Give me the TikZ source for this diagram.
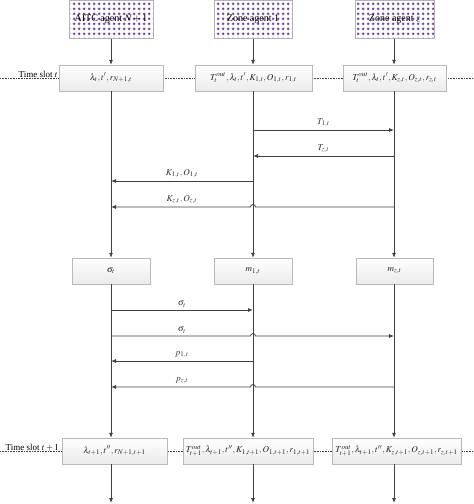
\documentclass[tikz,border=0pt]{standalone}
\usepackage{mathptmx}
\usepackage{fontspec}
\setmainfont{Liberation Serif}
\usetikzlibrary{arrows.meta,patterns.meta,shadows}
\definecolor{ln}{HTML}{404040}
\definecolor{pur}{HTML}{5A2590}
\tikzdeclarepattern{name=plusgrid, type=uncolored,
  bounding box={(0pt,0pt) and (4.5pt,4.5pt)}, tile size={(4.5pt,4.5pt)},
  code={\fill (0.9pt,1.7pt) rectangle (3.6pt,2.8pt); \fill (1.7pt,0.9pt) rectangle (2.8pt,3.6pt);}}
\tikzset{
  agent/.style={draw=gray!60, fill=white, pattern=plusgrid, pattern color=pur, inner sep=0pt,
    font=\fontsize{10}{11}\selectfont, text=black},
  agenttxt/.style={inner sep=0pt, font=\fontsize{10}{11}\selectfont, text=black},
  stbox/.style={draw=gray!55, top color=white, bottom color=gray!16, inner sep=0pt,
    minimum height=26pt, font=\fontsize{9}{10}\selectfont, text=black!85,
    drop shadow={shadow xshift=1pt, shadow yshift=-1pt, fill=gray!35, opacity=.6}},
  life/.style={draw=ln, line width=0.8pt},
  arr/.style={life, -{Latex[length=5pt,width=4pt]}},
  msg/.style={draw=ln, line width=0.8pt, -{Latex[length=5pt,width=4pt]}},
  lbl/.style={above=2.5pt, inner sep=0pt, font=\fontsize{9}{10}\selectfont, text=black!80},
  slot/.style={draw=ln, densely dotted, line width=0.6pt},
  slotlbl/.style={anchor=south east, inner sep=1pt, font=\fontsize{9}{10}\selectfont, text=black}
}
\begin{document}
\begin{tikzpicture}[x=1pt,y=-1pt]
\useasboundingbox (0,0) rectangle (474,504);
% time slot lines
\draw[slot] (0,78) -- (474,78);
\draw[slot] (0,451) -- (474,451);
\node[slotlbl] (ts1) at (59,79) {Time slot $t$};
\node[slotlbl] (ts2) at (60,452) {Time slot $t+1$};
% agents
\node[agent, minimum width=84pt, minimum height=38pt] (AA) at (111,19.5) {};
\node[agenttxt] at (AA) {AITC agent $N+1$};
\node[agent, minimum width=78pt, minimum height=38pt] (AB) at (253,19.5) {};
\node[agenttxt] at (AB) {Zone agent 1};
\node[agent, minimum width=79pt, minimum height=38pt] (AC) at (394.5,19.5) {};
\node[agenttxt] at (AC) {Zone agent $z$};
% row 1
\node[stbox, minimum width=104pt] (R1A) at (111,78) {$\lambda_t,t',r_{N+1,t}$};
\node[stbox, minimum width=117pt] (R1B) at (253.5,78) {$T_t^{out},\lambda_t,t',K_{1,t},O_{1,t},r_{1,t}$};
\node[stbox, minimum width=103pt] (R1C) at (394.5,78) {$T_t^{out},\lambda_t,t',K_{z,t},O_{z,t},r_{z,t}$};
% row 2
\node[stbox, minimum width=78pt] (R2A) at (111,271) {$\sigma_t$};
\node[stbox, minimum width=78pt] (R2B) at (253,271) {$m_{1,t}$};
\node[stbox, minimum width=77pt] (R2C) at (394.5,271) {$m_{z,t}$};
% row 3
\node[stbox, minimum width=105pt] (R3A) at (114.5,451) {$\lambda_{t+1},t'',r_{N+1,t+1}$};
\node[stbox, minimum width=130pt] (R3B) at (248,451) {$T_{t+1}^{out},\lambda_{t+1},t'',K_{1,t+1},O_{1,t+1},r_{1,t+1}$};
\node[stbox, minimum width=129pt] (R3C) at (396.5,451) {$T_{t+1}^{out},\lambda_{t+1},t'',K_{z,t+1},O_{z,t+1},r_{z,t+1}$};
% lifeline anchors
\coordinate (LA) at (111,0);
\coordinate (LB) at (253,0);
\coordinate (LC) at (394,0);
\coordinate (EA) at (111,503);
\coordinate (EB) at (253,503);
\coordinate (EC) at (394,503);
% lifelines
\draw[arr] (AA.south -| LA) -- (R1A.north -| LA);
\draw[arr] (AB.south -| LB) -- (R1B.north -| LB);
\draw[arr] (AC.south -| LC) -- (R1C.north -| LC);
\draw[arr] (R1A.south -| LA) -- (R2A.north -| LA);
\draw[arr] (R1B.south -| LB) -- (R2B.north -| LB);
\draw[arr] (R1C.south -| LC) -- (R2C.north -| LC);
\draw[arr] (R2A.south -| LA) -- (R3A.north -| LA);
\draw[arr] (R2B.south -| LB) -- (R3B.north -| LB);
\draw[arr] (R2C.south -| LC) -- (R3C.north -| LC);
\draw[arr] (R3A.south -| LA) -- (EA);
\draw[arr] (R3B.south -| LB) -- (EB);
\draw[arr] (R3C.south -| LC) -- (EC);
% messages phase 1
\coordinate (m1B) at (253,130); \coordinate (m1C) at (394,130);
\draw[msg] (m1B) -- node[lbl] (l1) {$T_{1,t}$} (m1C);
\coordinate (m2B) at (253,156); \coordinate (m2C) at (394,156);
\draw[msg] (m2C) -- node[lbl] (l2) {$T_{z,t}$} (m2B);
\coordinate (m3A) at (111,181); \coordinate (m3B) at (253,181);
\draw[msg] (m3B) -- node[lbl] (l3) {$K_{1,t},O_{1,t}$} (m3A);
\coordinate (m4A) at (111,207); \coordinate (m4B) at (253,207); \coordinate (m4C) at (394,207);
\draw[msg] (m4C) -- ([xshift=2.5pt]m4B) arc[start angle=0,end angle=180,radius=2.5pt] -- (m4A);
\path (m4A) -- node[lbl] (l4) {$K_{z,t},O_{z,t}$} (m4B);
% messages phase 2
\coordinate (m5A) at (111,310); \coordinate (m5B) at (253,310);
\draw[msg] (m5A) -- node[lbl] (l5) {$\sigma_t$} (m5B);
\coordinate (m6A) at (111,336); \coordinate (m6B) at (253,336); \coordinate (m6C) at (394,336);
\draw[msg] (m6A) -- ([xshift=-2.5pt]m6B) arc[start angle=180,end angle=0,radius=2.5pt] -- (m6C);
\path (m6A) -- node[lbl] (l6) {$\sigma_t$} (m6B);
\coordinate (m7A) at (111,361); \coordinate (m7B) at (253,361);
\draw[msg] (m7B) -- node[lbl] (l7) {$p_{1,t}$} (m7A);
\coordinate (m8A) at (111,387); \coordinate (m8B) at (253,387); \coordinate (m8C) at (394,387);
\draw[msg] (m8C) -- ([xshift=2.5pt]m8B) arc[start angle=0,end angle=180,radius=2.5pt] -- (m8A);
\path (m8A) -- node[lbl] (l8) {$p_{z,t}$} (m8B);
\end{tikzpicture}
\end{document}
